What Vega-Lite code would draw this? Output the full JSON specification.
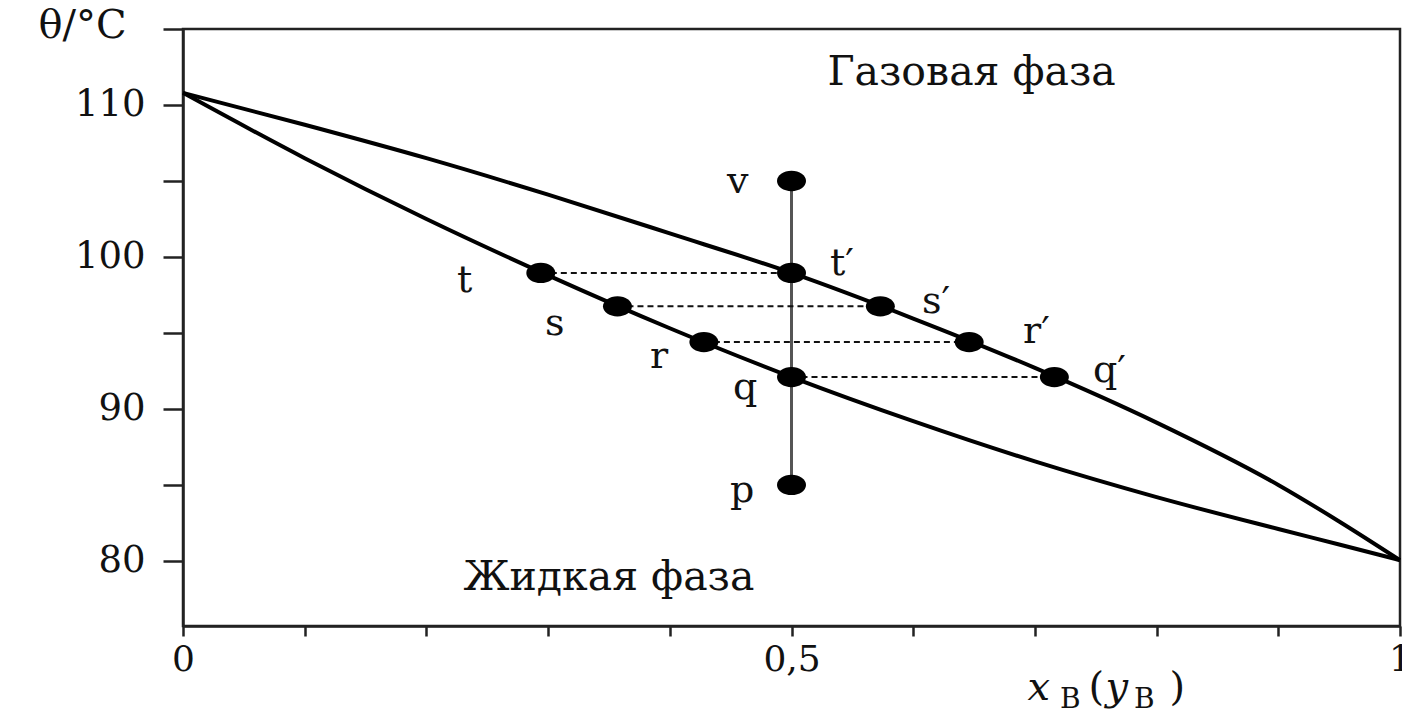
{
  "$schema": "https://vega.github.io/schema/vega-lite/v6.json",
  "width": 1217,
  "height": 597,
  "autosize": {"type": "none"},
  "padding": {"left": 183, "top": 29, "right": 2, "bottom": 91},
  "background": "white",
  "config": {
    "view": {"stroke": "#222", "strokeWidth": 2.5},
    "font": "DejaVu Serif"
  },
  "datasets": {
    "curves": [
      {"curve": "liquid", "x": 0, "y": 110.8},
      {"curve": "liquid", "x": 0.1, "y": 106.5},
      {"curve": "liquid", "x": 0.2, "y": 102.5},
      {"curve": "liquid", "x": 0.3, "y": 98.79},
      {"curve": "liquid", "x": 0.4, "y": 95.31},
      {"curve": "liquid", "x": 0.5, "y": 92.1},
      {"curve": "liquid", "x": 0.6, "y": 89.2},
      {"curve": "liquid", "x": 0.7, "y": 86.55},
      {"curve": "liquid", "x": 0.8, "y": 84.2},
      {"curve": "liquid", "x": 0.9, "y": 82.1},
      {"curve": "liquid", "x": 0.95, "y": 81.08},
      {"curve": "liquid", "x": 1, "y": 80.05},
      {"curve": "vapor", "x": 0, "y": 110.8},
      {"curve": "vapor", "x": 0.1, "y": 108.7},
      {"curve": "vapor", "x": 0.2, "y": 106.5},
      {"curve": "vapor", "x": 0.3, "y": 104.1},
      {"curve": "vapor", "x": 0.4, "y": 101.55},
      {"curve": "vapor", "x": 0.5, "y": 98.95},
      {"curve": "vapor", "x": 0.6, "y": 95.95},
      {"curve": "vapor", "x": 0.7, "y": 92.7},
      {"curve": "vapor", "x": 0.8, "y": 89.1},
      {"curve": "vapor", "x": 0.9, "y": 85.0},
      {"curve": "vapor", "x": 0.95, "y": 82.6},
      {"curve": "vapor", "x": 1, "y": 80.05}
    ],
    "vertical": [{"x": 0.5, "y": 85, "y2": 105}],
    "ties": [
      {"x": 0.294, "x2": 0.5, "y": 98.95},
      {"x": 0.357, "x2": 0.573, "y": 96.75},
      {"x": 0.428, "x2": 0.646, "y": 94.4},
      {"x": 0.5, "x2": 0.716, "y": 92.1}
    ],
    "points": [
      {"name": "t", "x": 0.294, "y": 98.95},
      {"name": "s", "x": 0.357, "y": 96.75},
      {"name": "r", "x": 0.428, "y": 94.4},
      {"name": "q", "x": 0.5, "y": 92.1},
      {"name": "t′", "x": 0.5, "y": 98.95},
      {"name": "s′", "x": 0.573, "y": 96.75},
      {"name": "r′", "x": 0.646, "y": 94.4},
      {"name": "q′", "x": 0.716, "y": 92.1},
      {"name": "v", "x": 0.5, "y": 105},
      {"name": "p", "x": 0.5, "y": 85}
    ],
    "pointLabels": [
      {"text": "t", "x": 0.2251, "y": 97.7},
      {"text": "s", "x": 0.2975, "y": 94.87},
      {"text": "r", "x": 0.3837, "y": 92.7},
      {"text": "q", "x": 0.4519, "y": 90.66},
      {"text": "v", "x": 0.447, "y": 104.21},
      {"text": "p", "x": 0.4495, "y": 83.88},
      {"text": "t′", "x": 0.5316, "y": 98.82},
      {"text": "s′", "x": 0.6072, "y": 96.32},
      {"text": "r′", "x": 0.6902, "y": 94.34},
      {"text": "q′", "x": 0.7477, "y": 91.78}
    ],
    "phases": [
      {"text": "Газовая фаза", "x": 0.648, "y": 111.32},
      {"text": "Жидкая фаза", "x": 0.35, "y": 78.09}
    ],
    "titleVars": [
      {"text": "x", "x": 0.694, "y": 70.85},
      {"text": "y", "x": 0.758, "y": 70.85}
    ],
    "titleSubs": [
      {"text": "B", "x": 0.7206, "y": 70.3},
      {"text": "B", "x": 0.7815, "y": 70.3}
    ],
    "titleParens": [
      {"text": "(", "x": 0.744, "y": 70.85},
      {"text": ")", "x": 0.8105, "y": 70.85}
    ]
  },
  "encoding": {
    "x": {
      "field": "x",
      "type": "quantitative",
      "scale": {"domain": [0, 1], "nice": false, "zero": false},
      "axis": {
        "title": null,
        "grid": false,
        "values": [0, 0.1, 0.2, 0.3, 0.4, 0.5, 0.6, 0.7, 0.8, 0.9, 1],
        "labelExpr": "datum.value == 0 ? '0' : (datum.value == 0.5 ? '0,5' : (datum.value == 1 ? '1' : ''))",
        "tickSize": 10,
        "tickWidth": 2.5,
        "tickColor": "#222",
        "domainColor": "#222",
        "domainWidth": 2.5,
        "labelFont": "DejaVu Serif",
        "labelFontSize": 36,
        "labelColor": "#111",
        "labelPadding": 6,
        "labelFlush": false,
        "labelOverlap": false,
        "labelBaseline": "top"
      }
    },
    "y": {
      "field": "y",
      "type": "quantitative",
      "scale": {"domain": [75.72, 115], "nice": false, "zero": false},
      "axis": {
        "title": "θ/°C",
        "titleAngle": 0,
        "titleX": -101,
        "titleY": 8,
        "titleAlign": "center",
        "titleBaseline": "alphabetic",
        "titleFont": "DejaVu Serif",
        "titleFontSize": 40,
        "titleFontWeight": "normal",
        "titleColor": "#111",
        "grid": false,
        "values": [80, 85, 90, 95, 100, 105, 110, 115],
        "labelExpr": "(datum.value % 10 == 0 && datum.value < 115) ? datum.label : ''",
        "tickSize": 20,
        "tickWidth": 2.5,
        "tickColor": "#222",
        "domainColor": "#222",
        "domainWidth": 2.5,
        "labelFont": "DejaVu Serif",
        "labelFontSize": 37,
        "labelColor": "#111",
        "labelPadding": 18,
        "labelOverlap": false,
        "labelFlush": false
      }
    }
  },
  "layer": [
    {
      "data": {"name": "curves"},
      "mark": {"type": "line", "color": "#000", "strokeWidth": 4, "interpolate": "monotone"},
      "encoding": {"detail": {"field": "curve"}}
    },
    {
      "data": {"name": "vertical"},
      "mark": {"type": "rule", "color": "#555", "strokeWidth": 3},
      "encoding": {"y2": {"field": "y2"}}
    },
    {
      "data": {"name": "ties"},
      "mark": {"type": "rule", "color": "#111", "strokeWidth": 2, "strokeDash": [6, 4]},
      "encoding": {"x2": {"field": "x2"}}
    },
    {
      "data": {"name": "points"},
      "mark": {
        "type": "point",
        "filled": true,
        "color": "#000",
        "opacity": 1,
        "size": 841,
        "shape": "M -1 0 A 1 0.7 0 1 1 1 0 A 1 0.7 0 1 1 -1 0 Z"
      }
    },
    {
      "data": {"name": "pointLabels"},
      "mark": {"type": "text", "align": "left", "baseline": "alphabetic", "fontSize": 38, "font": "DejaVu Serif", "color": "#111"},
      "encoding": {"text": {"field": "text"}}
    },
    {
      "data": {"name": "phases"},
      "mark": {"type": "text", "align": "center", "baseline": "alphabetic", "fontSize": 41, "font": "DejaVu Serif", "color": "#111"},
      "encoding": {"text": {"field": "text"}}
    },
    {
      "data": {"name": "titleVars"},
      "mark": {"type": "text", "align": "left", "baseline": "alphabetic", "fontSize": 40, "font": "DejaVu Serif", "fontStyle": "italic", "color": "#111"},
      "encoding": {"text": {"field": "text"}}
    },
    {
      "data": {"name": "titleSubs"},
      "mark": {"type": "text", "align": "left", "baseline": "alphabetic", "fontSize": 28, "font": "DejaVu Serif", "color": "#111"},
      "encoding": {"text": {"field": "text"}}
    },
    {
      "data": {"name": "titleParens"},
      "mark": {"type": "text", "align": "left", "baseline": "alphabetic", "fontSize": 40, "font": "DejaVu Serif", "color": "#111"},
      "encoding": {"text": {"field": "text"}}
    }
  ]
}
